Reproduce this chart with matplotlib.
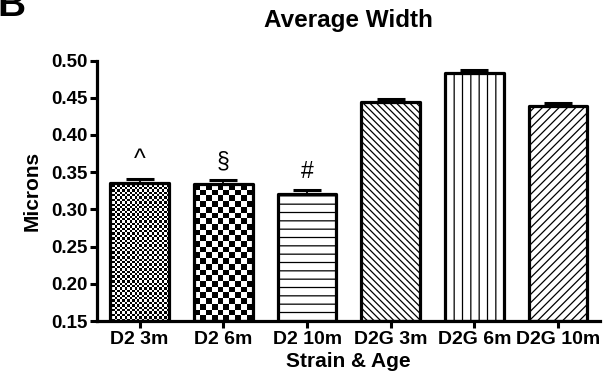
import numpy as np
import matplotlib
matplotlib.use("Agg")
import matplotlib.pyplot as plt

categories = ["D2 3m", "D2 6m", "D2 10m", "D2G 3m", "D2G 6m", "D2G 10m"]
means = [0.336, 0.334, 0.321, 0.444, 0.484, 0.439]
errors = [0.005, 0.005, 0.005, 0.004, 0.004, 0.004]
marks = ["^", "§", "#", "", "", ""]
yticks = [0.15, 0.20, 0.25, 0.30, 0.35, 0.40, 0.45, 0.50]

plt.rcParams['font.family'] = ['Liberation Sans', 'DejaVu Sans']
plt.rcParams['hatch.linewidth'] = 0.9

fig = plt.figure(figsize=(6.12, 3.81), dpi=100)
ax = fig.add_axes([97/612, 1 - 321/381, (600-97)/612, (321-60.6)/381])

x = np.arange(len(categories))
ax.set_xlim(-0.51, 5.5)
ax.set_ylim(0.15, 0.50)

hatches = [None, None, "--", "\\\\\\\\\\", "||", "////"]
bars = ax.bar(x, [m - 0.15 for m in means], bottom=0.15, width=0.7,
              color="white", edgecolor="none", zorder=1)
for b, h in zip(bars, hatches):
    if h:
        b.set_hatch(h)
        b.set_edgecolor("black")
        b.set_linewidth(0)

# checkerboards for first two bars
fig.canvas.draw()
cell_px = [2.4, 5.8]
for i, cp in enumerate(cell_px):
    b = bars[i]
    x0, y0 = b.get_x(), b.get_y()
    x1, y1 = x0 + b.get_width(), y0 + b.get_height()
    p0 = ax.transData.transform((x0, y0))
    p1 = ax.transData.transform((x1, y1))
    nx = max(1, int(round(abs(p1[0]-p0[0]) / cp)))
    ny = max(1, int(round(abs(p1[1]-p0[1]) / cp)))
    ii, jj = np.indices((ny, nx))
    img = ((ii + jj) % 2).astype(float)
    im = ax.imshow(img, extent=(x0, x1, y0, y1), cmap="gray", vmin=0, vmax=1,
                   interpolation="nearest", aspect="auto", zorder=1.5)
    im.set_clip_path(b)

ax.bar(x, [m - 0.15 for m in means], bottom=0.15, width=0.7,
       facecolor="none", edgecolor="black", linewidth=2.3, zorder=2,
       joinstyle="round")
ax.set_xlim(-0.51, 5.5)
ax.set_ylim(0.15, 0.50)

ax.errorbar(x, means, yerr=[np.zeros(len(means)), errors], fmt="none",
            ecolor="black", elinewidth=1.3, capsize=10, capthick=2.2, zorder=3)

for i, (m, e, t) in enumerate(zip(means, errors, marks)):
    if t:
        ax.annotate(t, xy=(i, m + e), xytext=(0, 5), textcoords="offset points",
                    ha="center", va="bottom", fontsize=18 if t == "^" else 16.5)

ax.set_xticks(x)
ax.set_xticklabels(categories, fontsize=14, fontweight="bold")
ax.set_yticks(yticks)
ax.set_yticklabels([f"{v:.2f}" for v in yticks], fontsize=13.5, fontweight="bold")
ax.tick_params(axis="both", direction="out", length=5, width=2.2, pad=2)
for s in ["top", "right"]:
    ax.spines[s].set_visible(False)
for s in ["left", "bottom"]:
    ax.spines[s].set_linewidth(2.3)

ax.set_xlabel("Strain & Age", fontsize=15, fontweight="bold", labelpad=3)
ax.set_ylabel("Microns", fontsize=15, fontweight="bold", labelpad=7)
fig.text((97+600)/2/612, 1 - 20/381, "Average Width", ha="center", va="center",
         fontsize=17.5, fontweight="bold")
fig.text(-0.004, 1 - 16/381, "B", ha="left", va="baseline", fontsize=28,
         fontweight="bold")

fig.savefig("out.png", dpi=100)
